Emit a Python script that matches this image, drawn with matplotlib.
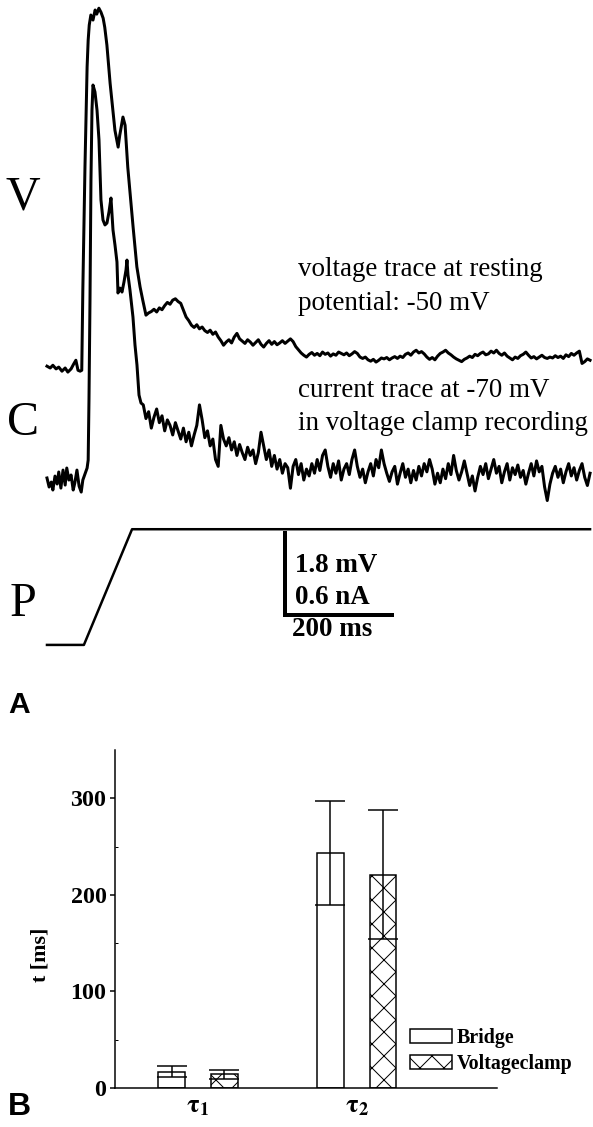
import matplotlib
matplotlib.use("Agg")
import matplotlib.pyplot as plt

plt.rcParams['font.family'] = ['Liberation Serif', 'DejaVu Serif']
plt.rcParams['mathtext.fontset'] = 'stix'
plt.rcParams['hatch.linewidth'] = 1.0

# ---------------- panel A data ----------------
# voltage trace, ms / mV relative to rest
volt_t = [0, 6, 11, 17, 22, 28, 34, 39, 45, 50, 54, 58, 62, 65,
          67, 71, 75, 77, 79, 82, 86, 90, 93, 97, 101, 105, 108, 112, 118,
          127, 133, 136, 142, 146, 151, 161, 168, 174, 179, 185]
volt_v = [0.02, -0.02, 0.04, -0.04, 0.0, -0.09, -0.02, -0.11, -0.04, 0.07, 0.15, -0.07, -0.09, -0.07,
          1.69, 4.39, 6.59, 7.18, 7.51, 7.73, 7.62, 7.84, 7.75, 7.88, 7.79, 7.66, 7.46, 7.07, 6.23,
          5.20, 4.83, 5.09, 5.49, 5.31, 4.39, 3.07, 2.20, 1.76, 1.47, 1.14]
volt_tail_t = [190, 195, 200, 205, 210, 215, 220, 225, 230, 235,
               240, 245, 250, 255, 260, 265, 270, 275, 280, 285,
               290, 295, 300, 305, 310, 315, 320, 325, 330, 335,
               340, 345, 350, 355, 360, 365, 370, 375, 380, 385,
               390, 395, 400, 405, 410, 415, 420, 425, 430, 435,
               440, 445, 450, 455, 460, 465, 470, 475, 480, 485,
               490, 495, 500, 505, 510, 515, 520, 525, 530, 535,
               540, 545, 550, 555, 560, 565, 570, 575, 580, 585,
               590, 595, 600, 605, 610, 615, 620, 625, 630, 635,
               640, 645, 650, 655, 660, 665, 670, 675, 680, 685,
               690, 695, 700, 705, 710, 715, 720, 725, 730, 735,
               740, 745, 750, 755, 760, 765, 770, 775, 780, 785,
               790, 795, 800, 805, 810, 815, 820, 825, 830, 835,
               840, 845, 850, 855, 860, 865, 870, 875, 880, 885,
               890, 895, 900, 905, 910, 915, 920, 925, 930, 935,
               940, 945, 950, 955, 960, 965, 970, 975, 980, 985,
               990, 995, 1000, 1005, 1010, 1015]
volt_tail_v = [1.19, 1.22, 1.27, 1.21, 1.30, 1.26, 1.35, 1.42, 1.38, 1.47,
               1.50, 1.44, 1.40, 1.25, 1.10, 1.02, 0.92, 0.87, 0.93, 0.84,
               0.88, 0.80, 0.76, 0.81, 0.72, 0.77, 0.66, 0.58, 0.48, 0.55,
               0.60, 0.53, 0.66, 0.74, 0.62, 0.57, 0.52, 0.60, 0.55, 0.48,
               0.54, 0.60, 0.50, 0.44, 0.52, 0.58, 0.50, 0.56, 0.49, 0.53,
               0.58, 0.52, 0.57, 0.62, 0.56, 0.45, 0.38, 0.31, 0.26, 0.22,
               0.28, 0.32, 0.26, 0.30, 0.25, 0.33, 0.28, 0.31, 0.24, 0.29,
               0.26, 0.33, 0.30, 0.27, 0.31, 0.25, 0.29, 0.34, 0.30, 0.22,
               0.19, 0.22, 0.16, 0.13, 0.17, 0.11, 0.15, 0.20, 0.18, 0.21,
               0.16, 0.20, 0.23, 0.19, 0.24, 0.21, 0.28, 0.31, 0.26, 0.33,
               0.37, 0.31, 0.34, 0.29, 0.22, 0.17, 0.21, 0.16, 0.24, 0.30,
               0.33, 0.37, 0.31, 0.27, 0.22, 0.18, 0.15, 0.12, 0.17, 0.20,
               0.24, 0.21, 0.28, 0.25, 0.30, 0.33, 0.27, 0.29, 0.35, 0.31,
               0.37, 0.30, 0.26, 0.31, 0.24, 0.20, 0.16, 0.22, 0.19, 0.25,
               0.28, 0.33, 0.26, 0.20, 0.23, 0.18, 0.22, 0.26, 0.21, 0.19,
               0.22, 0.20, 0.25, 0.21, 0.24, 0.19, 0.27, 0.23, 0.30, 0.26,
               0.31, 0.35, 0.08, 0.12, 0.18, 0.15]

# current trace, ms / nA (inward shown upward)
curr_t = [0, 4, 8, 11, 15, 19, 22, 26, 30, 34, 37, 41, 45, 49, 52, 56, 60, 64, 67, 71, 75, 77,
          78.5, 80.4, 82.2, 84.1, 86.0, 89.7, 93.5, 97.2, 100.9, 104.7, 108.4, 112.1, 115.9, 119.6,
          123.4, 127.1, 130.8, 132.7, 136.4, 140.2, 143.9, 147.7, 149.5, 151.4, 155.1, 160.7, 164.5,
          168.2, 172.0, 175.7]
curr_c = [0.015, -0.051, -0.015, -0.073, 0.029, -0.029, 0.059, -0.059, 0.073, -0.037, 0.088, 0.0,
          0.037, -0.073, -0.022, 0.073, -0.044, -0.088, 0.0, 0.044, 0.088, 0.146,
          0.586, 1.318, 2.196, 2.708, 2.891, 2.840, 2.708, 2.489, 2.050, 1.903, 1.867, 1.881, 1.962, 2.064,
          1.830, 1.720, 1.596, 1.369, 1.405, 1.376, 1.449, 1.537, 1.610, 1.501, 1.391, 1.193, 0.988,
          0.842, 0.622, 0.564]
curr_tail_t = [180, 185, 190, 195, 200, 205, 210, 215, 220, 225,
               230, 235, 240, 245, 250, 255, 260, 265, 270, 275,
               280, 285, 290, 295, 300, 305, 310, 315, 320, 325,
               330, 335, 340, 345, 350, 355, 360, 365, 370, 375,
               380, 385, 390, 395, 400, 405, 410, 415, 420, 425,
               430, 435, 440, 445, 450, 455, 460, 465, 470, 475,
               480, 485, 490, 495, 500, 505, 510, 515, 520, 525,
               530, 535, 540, 545, 550, 555, 560, 565, 570, 575,
               580, 585, 590, 595, 600, 605, 610, 615, 620, 625,
               630, 635, 640, 645, 650, 655, 660, 665, 670, 675,
               680, 685, 690, 695, 700, 705, 710, 715, 720, 725,
               730, 735, 740, 745, 750, 755, 760, 765, 770, 775,
               780, 785, 790, 795, 800, 805, 810, 815, 820, 825,
               830, 835, 840, 845, 850, 855, 860, 865, 870, 875,
               880, 885, 890, 895, 900, 905, 910, 915, 920, 925,
               930, 935, 940, 945, 950, 955, 960, 965, 970, 975,
               980, 985, 990, 995, 1000, 1005, 1010, 1015]
curr_tail_c = [0.55, 0.45, 0.50, 0.38, 0.46, 0.52, 0.42, 0.47, 0.36, 0.44,
               0.40, 0.33, 0.42, 0.36, 0.30, 0.38, 0.28, 0.35, 0.25, 0.33,
               0.40, 0.55, 0.44, 0.31, 0.36, 0.25, 0.30, 0.15, 0.10, 0.40,
               0.30, 0.25, 0.31, 0.22, 0.28, 0.18, 0.26, 0.20, 0.15, 0.24,
               0.18, 0.22, 0.12, 0.20, 0.35, 0.25, 0.15, 0.22, 0.10, 0.18,
               0.08, 0.15, 0.05, 0.12, 0.09, -0.06, 0.10, 0.15, 0.04, 0.12,
               0.00, 0.08, 0.03, 0.12, 0.05, 0.15, 0.07, 0.18, 0.22, 0.10,
               0.02, 0.12, 0.05, 0.14, 0.00, 0.08, 0.12, 0.04, 0.15, 0.22,
               0.10, 0.02, 0.08, -0.02, 0.06, 0.12, 0.03, 0.15, 0.09, 0.22,
               0.12, 0.05, -0.01, 0.06, 0.10, -0.03, 0.05, 0.12, 0.02, 0.08,
               -0.02, 0.07, 0.00, 0.10, 0.03, 0.12, 0.06, 0.15, 0.08, -0.03,
               0.05, -0.02, 0.08, 0.01, 0.12, 0.04, 0.18, 0.07, 0.00, 0.06,
               0.14, 0.05, -0.04, 0.03, -0.08, 0.02, 0.10, 0.04, 0.12, 0.01,
               0.08, 0.15, 0.05, 0.10, -0.02, 0.06, 0.12, 0.00, 0.09, 0.04,
               0.11, 0.02, 0.07, -0.03, 0.05, 0.12, 0.03, 0.14, 0.06, 0.10,
               -0.05, -0.15, -0.03, 0.05, 0.10, 0.02, 0.08, -0.02, 0.06, 0.12,
               0.03, 0.09, 0.00, 0.07, 0.12, 0.02, -0.04, 0.05]

# application protocol (relative)
puff_t = [0, 69, 159, 1015]
puff_p = [0, 0, 1, 1]

scale_mv = 1.8
scale_na = 0.6
scale_ms = 200

# ---------------- panel B data ----------------
groups = [r'$\mathbf{\tau_1}$', r'$\mathbf{\tau_2}$']
bridge_mean = [17, 243]
bridge_err = [6, 54]
vclamp_mean = [14, 221]
vclamp_err = [5, 67]

W, H = 593, 1127
fig = plt.figure(figsize=(W / 72, H / 72), dpi=72)


def fx(x):
    return x / W


def fy(y):
    return 1 - y / H


# ---------------- panel A ----------------
ax = fig.add_axes([0, fy(690), 1, 690 / H])
ax.set_xlim(-87.8, 1020.5)
ax.set_ylim(-7.09, 8.06)
ax.axis('off')

mv_per_na = scale_mv / scale_na
curr_off = -2.48
puff_off, puff_amp = -6.10, 2.54

ax.plot(volt_t + volt_tail_t, volt_v + volt_tail_v, color='black', lw=3, solid_joinstyle='round')
ax.plot(curr_t + curr_tail_t, [c * mv_per_na + curr_off for c in curr_c + curr_tail_c],
        color='black', lw=3, solid_joinstyle='round')
ax.plot(puff_t, [p * puff_amp + puff_off for p in puff_p], color='black', lw=2.5)

# scale bar
sb_t, sb_y = 445, -5.44
ax.plot([sb_t, sb_t, sb_t + scale_ms], [sb_y + scale_mv, sb_y, sb_y],
        color='black', lw=4, solid_joinstyle='miter')

bold = dict(fontsize=27, fontweight='bold', va='center', ha='left')
fig.text(fx(295), fy(565), '1.8 mV', **bold)
fig.text(fx(295), fy(598), '0.6 nA', **bold)
fig.text(fx(292), fy(629), '200 ms', **bold)

fig.text(fx(298), fy(270), 'voltage trace at resting', fontsize=27, va='center')
fig.text(fx(298), fy(303), 'potential: -50 mV', fontsize=27, va='center')
fig.text(fx(298), fy(391), 'current trace at -70 mV', fontsize=27, va='center')
fig.text(fx(298), fy(423), 'in voltage clamp recording', fontsize=27, va='center')

for lab, y in [('V', 198), ('C', 423), ('P', 604)]:
    fig.text(fx(23), fy(y), lab, fontsize=48, ha='center', va='center')

fig.text(fx(8), fy(705), 'A', fontsize=30, fontweight='bold', family='Liberation Sans',
         ha='left', va='center')
fig.text(fx(8), fy(1107), 'B', fontsize=32, fontweight='bold', family='Liberation Sans',
         ha='left', va='center')

# ---------------- panel B ----------------
ax2 = fig.add_axes([fx(115), fy(1088), (497 - 115) / W, (1088 - 750) / H])
off, bw = 0.166, 0.169
xb = [i - off for i in range(len(groups))]
xv = [i + off for i in range(len(groups))]
ax2.bar(xb, bridge_mean, bw, color='white', edgecolor='black', lw=1.5, label='Bridge')
ax2.bar(xv, vclamp_mean, bw, color='white', edgecolor='black', lw=1.5, hatch='x',
        label='Voltageclamp')
ax2.errorbar(xb, bridge_mean, yerr=bridge_err, fmt='none', ecolor='black',
             elinewidth=1.5, capsize=15, capthick=1.5)
ax2.errorbar(xv, vclamp_mean, yerr=vclamp_err, fmt='none', ecolor='black',
             elinewidth=1.5, capsize=15, capthick=1.5)

ax2.set_xlim(-0.523, 1.884)
ax2.set_ylim(0, 350)
ax2.set_yticks([0, 100, 200, 300])
ax2.set_yticks([50, 150, 250], minor=True)
ax2.set_xticks(range(len(groups)))
ax2.set_xticklabels(groups, fontsize=26)
ax2.tick_params(axis='x', length=0, pad=8)
ax2.tick_params(axis='y', which='major', length=5, width=1.5, labelsize=24)
ax2.tick_params(axis='y', which='minor', direction='in', length=3, width=1)
for t in ax2.get_yticklabels():
    t.set_fontweight('bold')
for s in ['top', 'right']:
    ax2.spines[s].set_visible(False)
for s in ['left', 'bottom']:
    ax2.spines[s].set_linewidth(1.5)

fig.text(fx(40), fy(955), 't [ms]', fontsize=22, fontweight='bold', rotation=90,
         ha='center', va='center')

ax2.legend(loc='upper left', bbox_to_anchor=(fx(410), fy(1028)), bbox_transform=fig.transFigure,
           frameon=False, prop={'weight': 'bold', 'size': 20}, handlelength=2.1,
           handleheight=0.65, handletextpad=0.25, labelspacing=0.3, borderpad=0,
           borderaxespad=0)

fig.savefig('out.png', dpi=72)
